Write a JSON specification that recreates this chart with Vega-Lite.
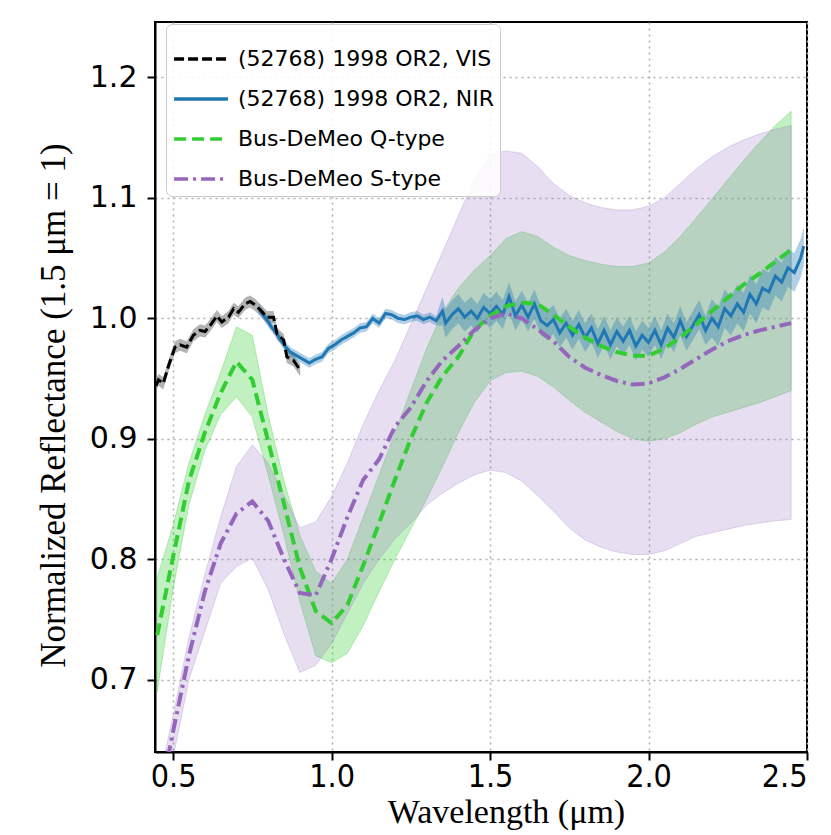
{
  "$schema": "https://vega.github.io/schema/vega-lite/v6.json",
  "width": 652,
  "height": 730,
  "autosize": {"type": "none"},
  "padding": {"left": 155, "top": 22, "right": 24, "bottom": 83},
  "background": "white",
  "config": {
    "view": {"stroke": "black", "strokeWidth": 2},
    "axis": {
      "domainColor": "black", "domainWidth": 2, "tickColor": "black", "tickWidth": 2, "tickSize": 8,
      "grid": true, "gridColor": "#b0b0b0", "gridDash": [2, 4], "gridWidth": 1.5,
      "labelColor": "black", "titleColor": "black", "titleFont": "Liberation Serif", "titleFontWeight": "normal"
    },
    "axisX": {"labelFont": "Liberation Sans Narrow, DejaVu Sans Condensed, Liberation Sans", "labelFontSize": 32, "labelPadding": 1, "titleFontSize": 34, "titlePadding": 3, "titleX": 351},
    "axisY": {"labelFont": "DejaVu Sans", "labelFontSize": 30, "labelPadding": 10, "titleFontSize": 35, "titlePadding": 18, "titleY": 383},
    "legend": {
      "orient": "none", "legendX": 11, "legendY": 2, "fillColor": "rgba(255,255,255,0.85)", "strokeColor": "#cccccc",
      "cornerRadius": 6, "padding": 6, "labelFont": "DejaVu Sans", "labelFontSize": 22, "labelColor": "black",
      "symbolType": "stroke", "symbolSize": 2900, "symbolStrokeWidth": 3.5, "rowPadding": -3, "labelOffset": 8, "labelLimit": 400
    }
  },
  "datasets": {
    "vis": [
      {"x":0.446,"y":0.944,"lo":0.939,"hi":0.949},{"x":0.454,"y":0.949,"lo":0.944,"hi":0.954},{"x":0.469,"y":0.946,"lo":0.941,"hi":0.951},
      {"x":0.485,"y":0.960,"lo":0.955,"hi":0.965},{"x":0.506,"y":0.976,"lo":0.971,"hi":0.981},{"x":0.522,"y":0.978,"lo":0.973,"hi":0.983},
      {"x":0.543,"y":0.976,"lo":0.971,"hi":0.981},{"x":0.564,"y":0.986,"lo":0.981,"hi":0.991},{"x":0.585,"y":0.990,"lo":0.985,"hi":0.995},
      {"x":0.601,"y":0.989,"lo":0.984,"hi":0.994},{"x":0.617,"y":0.994,"lo":0.989,"hi":0.999},{"x":0.638,"y":1.002,"lo":0.997,"hi":1.007},
      {"x":0.654,"y":0.997,"lo":0.992,"hi":1.002},{"x":0.675,"y":1.001,"lo":0.996,"hi":1.006},{"x":0.691,"y":1.008,"lo":1.003,"hi":1.013},
      {"x":0.706,"y":1.005,"lo":1.000,"hi":1.010},{"x":0.727,"y":1.012,"lo":1.007,"hi":1.017},{"x":0.743,"y":1.014,"lo":1.009,"hi":1.019},
      {"x":0.759,"y":1.011,"lo":1.006,"hi":1.016},{"x":0.775,"y":1.007,"lo":1.002,"hi":1.012},{"x":0.796,"y":1.001,"lo":0.996,"hi":1.006},
      {"x":0.817,"y":1.001,"lo":0.996,"hi":1.006},{"x":0.828,"y":0.987,"lo":0.982,"hi":0.992},{"x":0.849,"y":0.982,"lo":0.977,"hi":0.987},
      {"x":0.859,"y":0.968,"lo":0.963,"hi":0.973},{"x":0.880,"y":0.965,"lo":0.960,"hi":0.970},{"x":0.901,"y":0.957,"lo":0.952,"hi":0.962}
    ],
    "nir": [
      {"x":0.77,"y":1.008,"lo":1.004,"hi":1.012},{"x":0.79,"y":1.001,"lo":0.997,"hi":1.005},{"x":0.81,"y":0.993,"lo":0.989,"hi":0.997},
      {"x":0.83,"y":0.986,"lo":0.982,"hi":0.990},{"x":0.85,"y":0.978,"lo":0.974,"hi":0.982},{"x":0.87,"y":0.972,"lo":0.968,"hi":0.976},
      {"x":0.89,"y":0.969,"lo":0.965,"hi":0.973},{"x":0.91,"y":0.966,"lo":0.962,"hi":0.970},{"x":0.93,"y":0.963,"lo":0.959,"hi":0.967},
      {"x":0.95,"y":0.966,"lo":0.962,"hi":0.970},{"x":0.97,"y":0.968,"lo":0.964,"hi":0.972},{"x":0.99,"y":0.975,"lo":0.971,"hi":0.979},
      {"x":1.01,"y":0.978,"lo":0.974,"hi":0.982},{"x":1.03,"y":0.982,"lo":0.978,"hi":0.986},{"x":1.05,"y":0.985,"lo":0.981,"hi":0.989},
      {"x":1.07,"y":0.988,"lo":0.984,"hi":0.992},{"x":1.09,"y":0.992,"lo":0.988,"hi":0.996},{"x":1.11,"y":0.993,"lo":0.989,"hi":0.997},
      {"x":1.13,"y":1.000,"lo":0.996,"hi":1.004},{"x":1.15,"y":0.996,"lo":0.992,"hi":1.000},{"x":1.17,"y":1.004,"lo":1.000,"hi":1.008},
      {"x":1.19,"y":1.003,"lo":0.999,"hi":1.007},{"x":1.21,"y":1.000,"lo":0.996,"hi":1.004},{"x":1.23,"y":0.999,"lo":0.995,"hi":1.003},
      {"x":1.25,"y":1.001,"lo":0.997,"hi":1.005},{"x":1.27,"y":1.002,"lo":0.998,"hi":1.006},{"x":1.29,"y":0.999,"lo":0.995,"hi":1.003},
      {"x":1.31,"y":1.001,"lo":0.997,"hi":1.005},{"x":1.33,"y":0.998,"lo":0.994,"hi":1.002},{"x":1.35,"y":1.006,"lo":0.994,"hi":1.018},
      {"x":1.36,"y":0.996,"lo":0.984,"hi":1.008},{"x":1.38,"y":1.003,"lo":0.991,"hi":1.015},{"x":1.40,"y":1.008,"lo":0.996,"hi":1.020},
      {"x":1.42,"y":1.001,"lo":0.989,"hi":1.013},{"x":1.44,"y":1.006,"lo":0.994,"hi":1.018},{"x":1.46,"y":1.000,"lo":0.988,"hi":1.012},
      {"x":1.48,"y":1.009,"lo":0.997,"hi":1.021},{"x":1.50,"y":1.004,"lo":0.992,"hi":1.016},{"x":1.52,"y":1.010,"lo":0.998,"hi":1.022},
      {"x":1.54,"y":1.003,"lo":0.991,"hi":1.015},{"x":1.56,"y":1.018,"lo":1.006,"hi":1.030},{"x":1.58,"y":1.002,"lo":0.990,"hi":1.014},
      {"x":1.60,"y":1.011,"lo":0.999,"hi":1.023},{"x":1.62,"y":1.001,"lo":0.989,"hi":1.013},{"x":1.64,"y":1.012,"lo":1.000,"hi":1.024},
      {"x":1.66,"y":0.998,"lo":0.986,"hi":1.010},{"x":1.68,"y":0.994,"lo":0.982,"hi":1.006},{"x":1.70,"y":0.999,"lo":0.987,"hi":1.011},
      {"x":1.72,"y":0.988,"lo":0.976,"hi":1.000},{"x":1.74,"y":0.996,"lo":0.984,"hi":1.008},{"x":1.76,"y":0.986,"lo":0.974,"hi":0.998},
      {"x":1.78,"y":0.995,"lo":0.983,"hi":1.007},{"x":1.80,"y":0.984,"lo":0.972,"hi":0.996},{"x":1.82,"y":0.992,"lo":0.980,"hi":1.004},
      {"x":1.84,"y":0.979,"lo":0.967,"hi":0.991},{"x":1.86,"y":0.990,"lo":0.978,"hi":1.002},{"x":1.88,"y":0.978,"lo":0.966,"hi":0.990},
      {"x":1.90,"y":0.989,"lo":0.977,"hi":1.001},{"x":1.92,"y":0.981,"lo":0.969,"hi":0.993},{"x":1.94,"y":0.990,"lo":0.978,"hi":1.002},
      {"x":1.96,"y":0.977,"lo":0.965,"hi":0.989},{"x":1.98,"y":0.986,"lo":0.974,"hi":0.998},{"x":2.00,"y":0.980,"lo":0.968,"hi":0.992},
      {"x":2.02,"y":0.990,"lo":0.978,"hi":1.002},{"x":2.04,"y":0.978,"lo":0.966,"hi":0.990},{"x":2.06,"y":0.992,"lo":0.980,"hi":1.004},
      {"x":2.08,"y":0.984,"lo":0.972,"hi":0.996},{"x":2.10,"y":0.998,"lo":0.986,"hi":1.010},{"x":2.12,"y":0.985,"lo":0.973,"hi":0.997},
      {"x":2.14,"y":0.994,"lo":0.982,"hi":1.006},{"x":2.16,"y":1.003,"lo":0.991,"hi":1.015},{"x":2.18,"y":0.990,"lo":0.978,"hi":1.002},
      {"x":2.20,"y":1.000,"lo":0.984,"hi":1.016},{"x":2.22,"y":0.993,"lo":0.977,"hi":1.009},{"x":2.24,"y":1.008,"lo":0.992,"hi":1.024},
      {"x":2.26,"y":1.002,"lo":0.986,"hi":1.018},{"x":2.28,"y":1.012,"lo":0.996,"hi":1.028},{"x":2.30,"y":1.005,"lo":0.989,"hi":1.021},
      {"x":2.32,"y":1.020,"lo":1.004,"hi":1.036},{"x":2.34,"y":1.012,"lo":0.996,"hi":1.028},{"x":2.36,"y":1.025,"lo":1.009,"hi":1.041},
      {"x":2.38,"y":1.022,"lo":1.006,"hi":1.038},{"x":2.40,"y":1.035,"lo":1.019,"hi":1.051},{"x":2.42,"y":1.030,"lo":1.014,"hi":1.046},
      {"x":2.44,"y":1.042,"lo":1.026,"hi":1.058},{"x":2.46,"y":1.038,"lo":1.022,"hi":1.054},{"x":2.48,"y":1.050,"lo":1.034,"hi":1.066},
      {"x":2.49,"y":1.060,"lo":1.044,"hi":1.076}
    ],
    "q": [
      {"x":0.45,"y":0.737,"lo":0.690,"hi":0.785},{"x":0.50,"y":0.802,"lo":0.775,"hi":0.828},{"x":0.55,"y":0.865,"lo":0.845,"hi":0.880},
      {"x":0.60,"y":0.905,"lo":0.890,"hi":0.920},{"x":0.65,"y":0.938,"lo":0.920,"hi":0.955},{"x":0.70,"y":0.964,"lo":0.935,"hi":0.993},
      {"x":0.75,"y":0.949,"lo":0.918,"hi":0.986},{"x":0.80,"y":0.898,"lo":0.870,"hi":0.920},{"x":0.85,"y":0.846,"lo":0.820,"hi":0.865},
      {"x":0.90,"y":0.793,"lo":0.765,"hi":0.820},{"x":0.95,"y":0.757,"lo":0.720,"hi":0.790},{"x":1.00,"y":0.747,"lo":0.714,"hi":0.780},
      {"x":1.05,"y":0.762,"lo":0.722,"hi":0.800},{"x":1.10,"y":0.795,"lo":0.745,"hi":0.835},{"x":1.15,"y":0.830,"lo":0.773,"hi":0.870},
      {"x":1.20,"y":0.866,"lo":0.800,"hi":0.905},{"x":1.25,"y":0.900,"lo":0.825,"hi":0.940},{"x":1.30,"y":0.930,"lo":0.850,"hi":0.975},
      {"x":1.35,"y":0.952,"lo":0.877,"hi":1.005},{"x":1.40,"y":0.968,"lo":0.905,"hi":1.025},{"x":1.45,"y":0.990,"lo":0.930,"hi":1.040},
      {"x":1.50,"y":1.002,"lo":0.948,"hi":1.052},{"x":1.55,"y":1.010,"lo":0.955,"hi":1.066},{"x":1.60,"y":1.013,"lo":0.956,"hi":1.072},
      {"x":1.65,"y":1.012,"lo":0.952,"hi":1.068},{"x":1.70,"y":1.003,"lo":0.943,"hi":1.059},{"x":1.75,"y":0.993,"lo":0.932,"hi":1.052},
      {"x":1.80,"y":0.984,"lo":0.922,"hi":1.048},{"x":1.85,"y":0.977,"lo":0.914,"hi":1.045},{"x":1.90,"y":0.972,"lo":0.906,"hi":1.043},
      {"x":1.95,"y":0.969,"lo":0.900,"hi":1.043},{"x":2.00,"y":0.969,"lo":0.898,"hi":1.046},{"x":2.05,"y":0.975,"lo":0.900,"hi":1.055},
      {"x":2.10,"y":0.984,"lo":0.905,"hi":1.068},{"x":2.15,"y":0.995,"lo":0.912,"hi":1.083},{"x":2.20,"y":1.006,"lo":0.918,"hi":1.099},
      {"x":2.25,"y":1.017,"lo":0.922,"hi":1.115},{"x":2.30,"y":1.028,"lo":0.926,"hi":1.131},{"x":2.35,"y":1.037,"lo":0.930,"hi":1.146},
      {"x":2.40,"y":1.047,"lo":0.935,"hi":1.160},{"x":2.45,"y":1.057,"lo":0.940,"hi":1.172}
    ],
    "st": [
      {"x":0.45,"y":0.590,"lo":0.550,"hi":0.610},{"x":0.50,"y":0.657,"lo":0.635,"hi":0.670},{"x":0.55,"y":0.720,"lo":0.700,"hi":0.735},
      {"x":0.60,"y":0.773,"lo":0.740,"hi":0.787},{"x":0.65,"y":0.813,"lo":0.780,"hi":0.835},{"x":0.70,"y":0.838,"lo":0.794,"hi":0.877},
      {"x":0.75,"y":0.848,"lo":0.801,"hi":0.895},{"x":0.80,"y":0.832,"lo":0.775,"hi":0.880},{"x":0.85,"y":0.800,"lo":0.738,"hi":0.853},
      {"x":0.90,"y":0.772,"lo":0.706,"hi":0.826},{"x":0.95,"y":0.770,"lo":0.712,"hi":0.831},{"x":1.00,"y":0.800,"lo":0.730,"hi":0.852},
      {"x":1.05,"y":0.835,"lo":0.755,"hi":0.880},{"x":1.10,"y":0.866,"lo":0.780,"hi":0.912},{"x":1.15,"y":0.883,"lo":0.800,"hi":0.940},
      {"x":1.20,"y":0.910,"lo":0.817,"hi":0.965},{"x":1.25,"y":0.926,"lo":0.830,"hi":0.995},{"x":1.30,"y":0.948,"lo":0.845,"hi":1.025},
      {"x":1.35,"y":0.965,"lo":0.855,"hi":1.055},{"x":1.40,"y":0.977,"lo":0.863,"hi":1.085},{"x":1.45,"y":0.990,"lo":0.870,"hi":1.115},
      {"x":1.50,"y":1.000,"lo":0.874,"hi":1.136},{"x":1.55,"y":1.004,"lo":0.872,"hi":1.139},{"x":1.60,"y":1.000,"lo":0.865,"hi":1.137},
      {"x":1.65,"y":0.991,"lo":0.853,"hi":1.126},{"x":1.70,"y":0.981,"lo":0.840,"hi":1.112},{"x":1.75,"y":0.968,"lo":0.826,"hi":1.102},
      {"x":1.80,"y":0.959,"lo":0.816,"hi":1.096},{"x":1.85,"y":0.953,"lo":0.810,"hi":1.092},{"x":1.90,"y":0.948,"lo":0.806,"hi":1.090},
      {"x":1.95,"y":0.945,"lo":0.804,"hi":1.090},{"x":2.00,"y":0.946,"lo":0.804,"hi":1.093},{"x":2.05,"y":0.951,"lo":0.807,"hi":1.100},
      {"x":2.10,"y":0.958,"lo":0.813,"hi":1.112},{"x":2.15,"y":0.966,"lo":0.819,"hi":1.124},{"x":2.20,"y":0.974,"lo":0.822,"hi":1.134},
      {"x":2.25,"y":0.981,"lo":0.825,"hi":1.142},{"x":2.30,"y":0.986,"lo":0.828,"hi":1.148},{"x":2.35,"y":0.990,"lo":0.830,"hi":1.153},
      {"x":2.40,"y":0.993,"lo":0.832,"hi":1.157},{"x":2.45,"y":0.996,"lo":0.833,"hi":1.160}
    ]
  },
  "encoding": {
    "x": {"field": "x", "type": "quantitative", "scale": {"domain": [0.443, 2.5], "nice": false, "zero": false},
          "axis": {"values": [0.5, 1.0, 1.5, 2.0, 2.5], "format": ".1f", "title": "Wavelength (μm)"}}
  },
  "layer": [
    {"data": {"name": "q"}, "mark": {"type": "area", "clip": true, "fill": "#32CD32", "fillOpacity": 0.3, "stroke": "#32CD32", "strokeOpacity": 0.3, "strokeWidth": 1},
     "encoding": {"y": {"field": "lo", "type": "quantitative", "scale": {"domain": [0.64, 1.246], "nice": false, "zero": false},
       "axis": {"values": [0.7, 0.8, 0.9, 1.0, 1.1, 1.2], "format": ".1f", "title": "Normalized Reflectance (1.5 μm = 1)"}}, "y2": {"field": "hi"}}},
    {"data": {"name": "st"}, "mark": {"type": "area", "clip": true, "fill": "#9467bd", "fillOpacity": 0.22, "stroke": "#9467bd", "strokeOpacity": 0.25, "strokeWidth": 1},
     "encoding": {"y": {"field": "lo", "type": "quantitative", "scale": {"domain": [0.64, 1.246], "nice": false, "zero": false},
       "axis": {"values": [0.7, 0.8, 0.9, 1.0, 1.1, 1.2], "format": ".1f", "title": "Normalized Reflectance (1.5 μm = 1)"}}, "y2": {"field": "hi"}}},
    {"data": {"name": "vis"}, "mark": {"type": "area", "clip": true, "fill": "#808080", "fillOpacity": 0.6},
     "encoding": {"y": {"field": "lo", "type": "quantitative", "scale": {"domain": [0.64, 1.246], "nice": false, "zero": false},
       "axis": {"values": [0.7, 0.8, 0.9, 1.0, 1.1, 1.2], "format": ".1f", "title": "Normalized Reflectance (1.5 μm = 1)"}}, "y2": {"field": "hi"}}},
    {"data": {"name": "nir"}, "mark": {"type": "area", "clip": true, "fill": "#1f77b4", "fillOpacity": 0.35},
     "encoding": {"y": {"field": "lo", "type": "quantitative", "scale": {"domain": [0.64, 1.246], "nice": false, "zero": false},
       "axis": {"values": [0.7, 0.8, 0.9, 1.0, 1.1, 1.2], "format": ".1f", "title": "Normalized Reflectance (1.5 μm = 1)"}}, "y2": {"field": "hi"}}},
    {"data": {"name": "nir"}, "mark": {"type": "line", "clip": true, "strokeWidth": 3},
     "encoding": {"y": {"field": "y", "type": "quantitative", "scale": {"domain": [0.64, 1.246], "nice": false, "zero": false},
       "axis": {"values": [0.7, 0.8, 0.9, 1.0, 1.1, 1.2], "format": ".1f", "title": "Normalized Reflectance (1.5 μm = 1)"}},
       "stroke": {"datum": "(52768) 1998 OR2, NIR", "scale": {"domain": ["(52768) 1998 OR2, VIS", "(52768) 1998 OR2, NIR", "Bus-DeMeo Q-type", "Bus-DeMeo S-type"], "range": ["black", "#1f77b4", "#32CD32", "#9467bd"]}, "legend": {"title": null}},
       "strokeDash": {"datum": "(52768) 1998 OR2, NIR", "scale": {"domain": ["(52768) 1998 OR2, VIS", "(52768) 1998 OR2, NIR", "Bus-DeMeo Q-type", "Bus-DeMeo S-type"], "range": [[10, 4], [1, 0], [12, 6], [14, 5, 3, 5]]}, "legend": {"title": null}}}},
    {"data": {"name": "vis"}, "mark": {"type": "line", "clip": true, "strokeWidth": 3},
     "encoding": {"y": {"field": "y", "type": "quantitative", "scale": {"domain": [0.64, 1.246], "nice": false, "zero": false},
       "axis": {"values": [0.7, 0.8, 0.9, 1.0, 1.1, 1.2], "format": ".1f", "title": "Normalized Reflectance (1.5 μm = 1)"}},
       "stroke": {"datum": "(52768) 1998 OR2, VIS", "scale": {"domain": ["(52768) 1998 OR2, VIS", "(52768) 1998 OR2, NIR", "Bus-DeMeo Q-type", "Bus-DeMeo S-type"], "range": ["black", "#1f77b4", "#32CD32", "#9467bd"]}, "legend": {"title": null}},
       "strokeDash": {"datum": "(52768) 1998 OR2, VIS", "scale": {"domain": ["(52768) 1998 OR2, VIS", "(52768) 1998 OR2, NIR", "Bus-DeMeo Q-type", "Bus-DeMeo S-type"], "range": [[10, 4], [1, 0], [12, 6], [14, 5, 3, 5]]}, "legend": {"title": null}}}},
    {"data": {"name": "q"}, "mark": {"type": "line", "clip": true, "strokeWidth": 4},
     "encoding": {"y": {"field": "y", "type": "quantitative", "scale": {"domain": [0.64, 1.246], "nice": false, "zero": false},
       "axis": {"values": [0.7, 0.8, 0.9, 1.0, 1.1, 1.2], "format": ".1f", "title": "Normalized Reflectance (1.5 μm = 1)"}},
       "stroke": {"datum": "Bus-DeMeo Q-type", "scale": {"domain": ["(52768) 1998 OR2, VIS", "(52768) 1998 OR2, NIR", "Bus-DeMeo Q-type", "Bus-DeMeo S-type"], "range": ["black", "#1f77b4", "#32CD32", "#9467bd"]}, "legend": {"title": null}},
       "strokeDash": {"datum": "Bus-DeMeo Q-type", "scale": {"domain": ["(52768) 1998 OR2, VIS", "(52768) 1998 OR2, NIR", "Bus-DeMeo Q-type", "Bus-DeMeo S-type"], "range": [[10, 4], [1, 0], [12, 6], [14, 5, 3, 5]]}, "legend": {"title": null}}}},
    {"data": {"name": "st"}, "mark": {"type": "line", "clip": true, "strokeWidth": 4},
     "encoding": {"y": {"field": "y", "type": "quantitative", "scale": {"domain": [0.64, 1.246], "nice": false, "zero": false},
       "axis": {"values": [0.7, 0.8, 0.9, 1.0, 1.1, 1.2], "format": ".1f", "title": "Normalized Reflectance (1.5 μm = 1)"}},
       "stroke": {"datum": "Bus-DeMeo S-type", "scale": {"domain": ["(52768) 1998 OR2, VIS", "(52768) 1998 OR2, NIR", "Bus-DeMeo Q-type", "Bus-DeMeo S-type"], "range": ["black", "#1f77b4", "#32CD32", "#9467bd"]}, "legend": {"title": null}},
       "strokeDash": {"datum": "Bus-DeMeo S-type", "scale": {"domain": ["(52768) 1998 OR2, VIS", "(52768) 1998 OR2, NIR", "Bus-DeMeo Q-type", "Bus-DeMeo S-type"], "range": [[10, 4], [1, 0], [12, 6], [14, 5, 3, 5]]}, "legend": {"title": null}}}}
  ]
}
